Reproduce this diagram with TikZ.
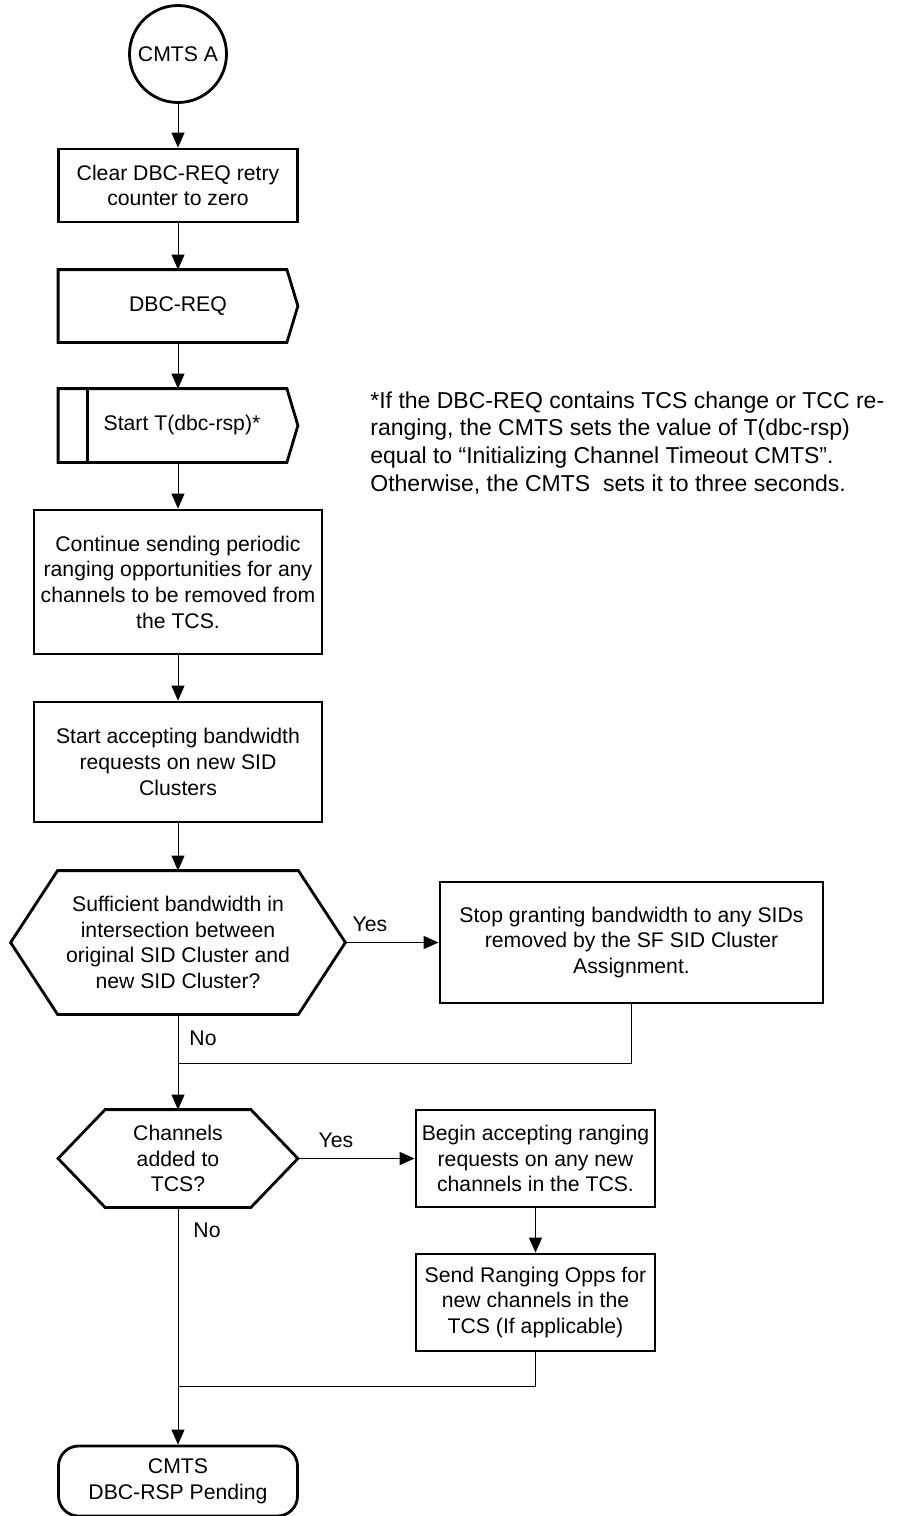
\documentclass[tikz,border=0pt]{standalone}
\usepackage{fontspec}
\setmainfont{Liberation Sans}
\usetikzlibrary{arrows.meta,calc}

\begin{document}
\begin{tikzpicture}[
    x=0.5pt,y=-0.5pt,
    proc/.style={draw,line width=1.4pt,align=center,inner sep=0pt,font={\fontsize{10.6}{12.85}\selectfont}},
    txt/.style={align=center,inner sep=0pt,font={\fontsize{10.6}{12.85}\selectfont}},
    outline/.style={draw,line width=1.4pt,line join=miter},
    circ/.style={circle,draw,line width=1.4pt,minimum size=48.5pt,inner sep=0pt,font={\fontsize{10.6}{12.85}\selectfont}},
    term/.style={proc,rounded corners=10pt},
    lbl/.style={inner sep=0pt,font={\fontsize{10.6}{12.85}\selectfont}},
    note/.style={align=left,inner sep=0pt,font={\fontsize{11.5}{13.85}\selectfont}},
    arr/.style={-{Triangle[length=7.5pt,width=6.5pt]},line width=0.5pt},
    wire/.style={line width=0.5pt}
]
\useasboundingbox (0,0) rectangle (906,1516);

\node[circ] (start) at (178,54) {CMTS A};
\node[proc,minimum width=119.5pt,minimum height=36.5pt] (clear) at (178,185.5) {Clear DBC-REQ retry\\counter to zero};
\node[txt,minimum width=119.5pt,minimum height=36pt] (req) at (178,306) {DBC-REQ};
\draw[outline] (req.north west) -- ($(req.north east)+(-11,0)$) -- (req.east) -- ($(req.south east)+(-11,0)$) -- (req.south west) -- cycle;
\node[txt,minimum width=119.5pt,minimum height=36.5pt] (tim) at (178,425.5) {\hspace*{4pt}Start T(dbc-rsp)*};
\draw[outline] (tim.north west) -- ($(tim.north east)+(-11,0)$) -- (tim.east) -- ($(tim.south east)+(-11,0)$) -- (tim.south west) -- cycle;
\draw[outline] ($(tim.north west)+(29,0)$) -- ($(tim.south west)+(29,0)$);
\node[proc,minimum width=144pt,minimum height=72pt] (cont) at (178,582) {Continue sending periodic\\ranging opportunities for any\\channels to be removed from\\the TCS.};
\node[proc,minimum width=144pt,minimum height=60pt] (acc) at (178,762) {Start accepting bandwidth\\requests on new SID\\Clusters};

\node[txt,minimum width=167pt,minimum height=71.5pt] (q1) at (178,942.5) {Sufficient bandwidth in\\intersection between\\original SID Cluster and\\new SID Cluster?};
\draw[outline] (q1.west) -- ($(q1.north west)+(47,0)$) -- ($(q1.north east)+(-47,0)$) -- (q1.east) -- ($(q1.south east)+(-47,0)$) -- ($(q1.south west)+(47,0)$) -- cycle;
\node[proc,minimum width=191.5pt,minimum height=60.5pt] (stop) at (631.5,942.5) {Stop granting bandwidth to any SIDs\\removed by the SF SID Cluster\\Assignment.};

\node[txt,minimum width=119.5pt,minimum height=48.5pt] (q2) at (178,1158.5) {Channels\\added to\\TCS?};
\draw[outline] (q2.west) -- ($(q2.north west)+(47,0)$) -- ($(q2.north east)+(-47,0)$) -- (q2.east) -- ($(q2.south east)+(-47,0)$) -- ($(q2.south west)+(47,0)$) -- cycle;
\node[proc,minimum width=119.5pt,minimum height=48.5pt] (begin) at (535.5,1158.5) {Begin accepting ranging\\requests on any new\\channels in the TCS.};
\node[proc,minimum width=119.5pt,minimum height=48.5pt] (send) at (535.5,1302.5) {Send Ranging Opps for\\new channels in the\\TCS (If applicable)};
\node[term,minimum width=119.5pt,minimum height=35pt] (fin) at (178,1481) {CMTS\\DBC-RSP Pending};

\node[note,anchor=north west] (fn) at (370,391) {*If the DBC-REQ contains TCS change or TCC re-\\ranging, the CMTS sets the value of T(dbc-rsp)\\equal to “Initializing Channel Timeout CMTS”.\\Otherwise, the CMTS\ \ sets it to three seconds.};

\node[lbl] (yes1) at (370,924) {Yes};
\node[lbl] (no1) at (203,1038) {No};
\node[lbl] (yes2) at (336,1140) {Yes};
\node[lbl] (no2) at (207,1230) {No};

\coordinate (j1) at (178,1063);
\coordinate (j2) at (178,1386);

\draw[arr] (start) -- (clear);
\draw[arr] (clear) -- (req);
\draw[arr] (req) -- (tim);
\draw[arr] (tim) -- (cont);
\draw[arr] (cont) -- (acc);
\draw[arr] (acc) -- (q1);
\draw[arr] (q1.east) -- (stop.west);
\draw[arr] (q1.south) -- (q2.north);
\draw[wire] (stop.south) |- (j1);
\draw[arr] (q2.east) -- (begin.west);
\draw[arr] (begin) -- (send);
\draw[arr] (q2.south) -- (fin.north);
\draw[wire] (send.south) |- (j2);
\end{tikzpicture}
\end{document}
